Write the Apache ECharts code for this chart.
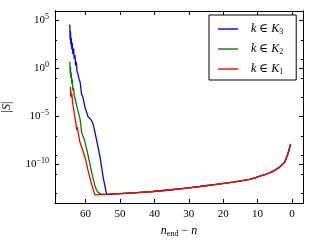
<!DOCTYPE html>
<html><head><meta charset="utf-8">
<script src="https://cdn.jsdelivr.net/npm/echarts@6/dist/echarts.min.js"></script>
<style>html,body{margin:0;padding:0;background:#fff}#c{width:320px;height:240px}</style>
</head><body><div id="c"></div>
<script>
// x = n_end - n, values stored as log10|S|
const tailX    = [53.9, 50, 45, 40.4, 35, 30, 26.8, 22, 17.1, 12.3, 10.8, 8.9, 7.4, 6.0, 4.8, 3.6, 2.1, 1.2, 0.4];
const tailLogS = [-13.1, -13.02, -12.92, -12.8, -12.62, -12.42, -12.28, -12.05, -11.82, -11.54, -11.38, -11.14, -10.98, -10.78, -10.55, -10.26, -9.73, -8.9, -7.85];

const k3X    = [64.6, 64.5, 64.4, 64.3, 64.2, 64.0, 63.9, 63.7, 63.5, 63.3, 63.1, 62.9, 62.7, 62.5, 62.2, 61.9, 61.6, 61.2, 60.7, 60.2, 59.3, 58.3, 57.8, 56.8, 55.8, 54.9];
const k3LogS = [4.6, 3.0, 3.9, 2.5, 3.2, 2.0, 2.7, 1.5, 2.1, 1.0, 1.4, 0.3, 0.7, -0.3, -0.6, -1.1, -1.4, -2.6, -3.1, -4.0, -5.0, -5.4, -5.8, -7.45, -9.2, -11.3];

const k2X    = [64.6, 64.5, 64.4, 64.3, 64.2, 64.0, 63.9, 63.7, 63.5, 63.3, 63.1, 62.9, 62.6, 62.3, 62.0, 61.7, 61.4, 61.2, 60.9, 60.2, 59.3, 58.3, 57.3, 56.9, 56.4, 55.6];
const k2LogS = [0.7, -0.5, 0.2, -1.0, -0.4, -1.6, -1.1, -2.3, -2.0, -2.8, -2.6, -3.4, -3.6, -4.3, -4.4, -5.1, -5.8, -6.6, -6.8, -7.6, -9.0, -10.7, -12.2, -12.6, -12.9, -13.05];

const k1X    = [64.4, 64.35, 64.3, 64.1, 64.0, 63.8, 63.6, 63.4, 63.2, 63.1, 62.9, 62.6, 62.4, 62.2, 61.9, 61.7, 61.4, 61.2, 60.2, 59.3, 58.3, 57.3, 56.0];
const k1LogS = [-1.9, -2.9, -2.3, -3.0, -2.6, -3.5, -4.0, -4.4, -4.6, -5.2, -5.5, -6.4, -6.1, -6.6, -7.2, -7.6, -7.5, -7.8, -9.2, -10.6, -12.0, -13.15, -13.12];

const seriesNames = ['K3', 'K2', 'K1'];
const seriesColors = ['#0000ff', '#008000', '#ff0000'];
const xTicks = [0, 10, 20, 30, 40, 50, 60];
const yMajorExp = [-10, -5, 0, 5];
const yMinorExp = [-13, -11, -9, -7, -3, -1, 1, 3];

const FONT = "'Liberation Serif', 'DejaVu Serif', serif";
function pts(xs, ls) {
  const all = xs.map((x, i) => [x, Math.pow(10, ls[i])]);
  return all.concat(tailX.map((x, i) => [x, Math.pow(10, tailLogS[i])]));
}
const heads = [[k3X, k3LogS], [k2X, k2LogS], [k1X, k1LogS]];
const yMajor = yMajorExp.map(e => Math.pow(10, e));

function xAx(pos, labels) {
  return {
    type: 'value', inverse: true, min: -3.2, max: 68.9, position: pos,
    axisLine: { show: true, onZero: false, lineStyle: { color: '#000', width: 1 } },
    axisTick: { show: true, inside: true, length: 4, customValues: xTicks, lineStyle: { color: '#000', width: 1 } },
    axisLabel: { show: labels, customValues: xTicks, color: '#000', fontFamily: FONT, fontSize: 11, margin: 6 },
    splitLine: { show: false },
    name: labels ? '{i|n}{sub|end}{r| − }{i|n}' : '',
    nameLocation: 'middle', nameGap: 19,
    nameTextStyle: { color: '#000', fontFamily: FONT, fontSize: 12,
      rich: { i: { fontStyle: 'italic', fontFamily: FONT, fontSize: 12 },
              sub: { fontFamily: FONT, fontSize: 8, padding: [6, 0, 0, 0] },
              r: { fontFamily: FONT, fontSize: 12 } } }
  };
}
// log-scale data axis with the decade labels
const yLog = {
  type: 'log', logBase: 10, min: 1e-14, max: 1e6, position: 'left',
  axisLine: { show: true, onZero: false, lineStyle: { color: '#000', width: 1 } },
  axisTick: { show: false },
  axisLabel: { show: true, customValues: yMajor, margin: 6,
    formatter: v => { const e = Math.round(Math.log10(v)); return '{b|10}{s|' + (e < 0 ? '−' + (-e) : e) + '}'; },
    rich: { b: { fontFamily: FONT, fontSize: 11, color: '#000' },
            s: { fontFamily: FONT, fontSize: 8, color: '#000', padding: [0, 0, 7, 0] } } },
  splitLine: { show: false }, minorTick: { show: false },
  name: '|{i|S}|', nameLocation: 'middle', nameGap: 42, nameRotate: 90,
  nameTextStyle: { color: '#000', fontFamily: FONT, fontSize: 12,
    rich: { i: { fontStyle: 'italic', fontFamily: FONT, fontSize: 12 } } }
};
// tick-only axes, in decades (same extent as the log axis)
function yTickAx(pos, exps, len) {
  return {
    type: 'value', min: -14, max: 6, position: pos,
    axisLine: { show: true, onZero: false, lineStyle: { color: '#000', width: 1 } },
    axisTick: { show: true, inside: true, length: len, customValues: exps, lineStyle: { color: '#000', width: 1 } },
    axisLabel: { show: false }, splitLine: { show: false }
  };
}

const chart = echarts.init(document.getElementById('c'), null, { renderer: 'canvas' });
chart.setOption({
  animation: false,
  backgroundColor: '#fff',
  grid: { left: 55, right: 17, top: 11, bottom: 37, containLabel: false, outerBoundsMode: 'none' },
  xAxis: [xAx('bottom', true), xAx('top', false)],
  yAxis: [yLog, yTickAx('left', yMajorExp, 4), yTickAx('left', yMinorExp, 2),
          yTickAx('right', yMajorExp, 4), yTickAx('right', yMinorExp, 2)],
  legend: {
    orient: 'vertical', left: 209, top: 15, padding: [8, 13, 4, 9],
    icon: 'rect', itemWidth: 20, itemHeight: 1.4, itemGap: 7,
    borderColor: '#000', borderWidth: 1, borderRadius: 0, backgroundColor: '#fff',
    data: seriesNames,
    formatter: n => '{i|k}{r| ∈ }{i|K}{s|' + n.slice(1) + '}',
    textStyle: { color: '#000', fontFamily: FONT, fontSize: 12, padding: [0, 0, 0, 8],
      rich: { i: { fontStyle: 'italic', fontFamily: FONT, fontSize: 12 },
              r: { fontFamily: FONT, fontSize: 12 },
              s: { fontFamily: FONT, fontSize: 8, padding: [6, 0, 0, 0] } } }
  },
  series: seriesNames.map((n, i) => ({
    name: n, type: 'line', symbol: 'none', clip: true,
    data: pts(heads[i][0], heads[i][1]),
    lineStyle: { color: seriesColors[i], width: 1.3 },
    itemStyle: { color: seriesColors[i] }
  }))
});
</script></body></html>
